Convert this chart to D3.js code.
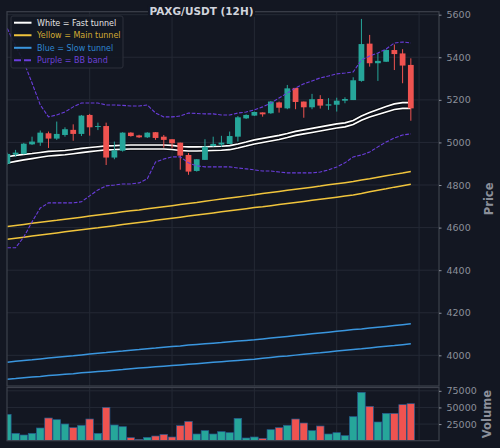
<!DOCTYPE html>
<html>
<head>
<meta charset="utf-8">
<script src="https://cdn.jsdelivr.net/npm/d3@7"></script>
<style>
  body { margin: 0; background: #131722; }
  text { font-family: "DejaVu Sans", sans-serif; }
</style>
</head>
<body>
<div id="chart"></div>
<script>
// candles (12H)
const opens  = [4900,4943,4946,4991,4999,5043,5018,5035,5059,5040,5129,5073,5077,4929,4961,5046,5033,5024,5048,5027,
                5015,4999,4941,4866,4918,4983,4990,4993,5027,5113,5126,5141,5137,5188,5160,5256,5192,5165,5204,5173,
                5177,5196,5199,5289,5464,5372,5379,5434,5418,5364];
const highs  = [4952,4965,4998,5027,5056,5051,5098,5071,5085,5129,5134,5093,5093,5004,5048,5048,5036,5048,5049,5035,
                5015,4999,4950,4921,5015,5027,5031,5051,5124,5132,5145,5141,5195,5192,5270,5256,5192,5228,5222,5208,
                5210,5212,5306,5580,5505,5419,5437,5460,5438,5395];
const lows   = [4895,4933,4944,4988,4984,4974,5012,5027,5008,5030,5032,5058,4894,4921,4957,5027,5021,5021,5012,4975,
                4972,4872,4848,4863,4918,4980,4980,4993,5004,5110,5124,5121,5134,5140,5156,5156,5116,5156,5159,5153,
                5145,5184,5199,5285,5356,5289,5378,5340,5278,5102];
const closes = [4946,4952,4994,5004,5046,5018,5040,5062,5040,5126,5071,5077,4929,4963,5046,5030,5024,5046,5021,5012,
                4996,4938,4863,4921,4980,4993,4999,5030,5118,5129,5143,5132,5192,5163,5254,5190,5165,5203,5173,5179,
                5196,5204,5292,5462,5372,5383,5434,5415,5361,5160];
const volumes = [39650,11080,8570,11080,19100,34130,31630,25110,19600,23110,32630,11080,50180,23610,21100,4560,2050,5060,7070,9570,
                 5560,22610,29120,10070,15090,10070,13580,12080,33640,4060,5560,3560,16590,19600,23110,32630,26620,15090,22110,10070,
                 12080,7570,36140,72730,51680,28120,41150,41150,54190,55690];

// tunnels
const fastUpper = [4933,4939,4944,4948,4953,4958,4960,4962,4967,4972,4976,4980,4984,4985,4987,4988,4988,4988,4988,4988,
                   4986,4981,4979,4979,4980,4981,4982,4985,4993,5002,5012,5019,5026,5033,5042,5052,5059,5066,5073,5080,
                   5087,5092,5103,5124,5141,5155,5169,5181,5187,5187];
const fastLower = [4903,4911,4918,4924,4930,4936,4939,4942,4947,4952,4957,4961,4965,4966,4968,4969,4969,4969,4969,4969,
                   4967,4962,4960,4960,4961,4962,4963,4966,4974,4983,4993,5000,5007,5014,5023,5033,5040,5047,5054,5061,
                   5068,5073,5084,5104,5119,5131,5143,5155,5160,5160];
const mainUpper = [4605,4610,4615,4620,4625,4630,4634,4639,4644,4649,4654,4659,4664,4669,4674,4679,4683,4688,4693,4698,
                   4703,4708,4713,4718,4724,4729,4734,4739,4744,4749,4754,4760,4765,4770,4775,4780,4785,4790,4795,4801,
                   4806,4811,4816,4823,4829,4836,4843,4850,4856,4863];
const mainLower = [4545,4550,4555,4560,4565,4570,4575,4580,4585,4590,4595,4599,4604,4609,4614,4619,4624,4629,4634,4639,
                   4644,4649,4654,4659,4664,4669,4674,4679,4684,4689,4694,4698,4703,4708,4713,4718,4723,4728,4733,4738,
                   4743,4748,4753,4760,4768,4775,4782,4790,4797,4804];
const slowUpper = [3968,3972,3976,3979,3983,3987,3991,3995,3998,4002,4006,4010,4013,4017,4020,4024,4027,4031,4034,4038,
                   4041,4044,4048,4051,4054,4057,4060,4064,4067,4070,4073,4077,4081,4085,4089,4093,4097,4101,4105,4109,
                   4113,4117,4121,4124,4128,4132,4136,4140,4144,4148];
const slowLower = [3888,3891,3895,3898,3901,3905,3908,3911,3914,3918,3921,3924,3927,3930,3933,3937,3940,3943,3946,3949,
                   3952,3955,3958,3961,3964,3967,3970,3973,3976,3979,3982,3986,3990,3994,3997,4001,4005,4009,4012,4016,
                   4020,4024,4028,4031,4035,4039,4043,4046,4050,4054];
// bollinger band
const bbUpper = [5535,5453,5378,5279,5176,5120,5129,5143,5167,5185,5185,5185,5176,5176,5174,5171,5171,5176,5138,5120,
                 5120,5124,5138,5136,5134,5134,5129,5129,5138,5143,5153,5167,5185,5209,5232,5256,5275,5289,5303,5312,
                 5322,5326,5331,5387,5406,5420,5439,5467,5472,5467];
const bbLower = [4505,4505,4556,4627,4692,4716,4716,4716,4716,4721,4749,4777,4796,4800,4805,4805,4810,4829,4908,4922,
                 4932,4932,4904,4890,4885,4885,4885,4885,4880,4876,4871,4866,4866,4861,4857,4857,4857,4857,4861,4871,
                 4885,4904,4932,4941,4955,4979,5002,5021,5035,5040];

const priceTicks = [4000,4200,4400,4600,4800,5000,5200,5400,5600];
const volumeTicks = [25000,50000,75000];
const gridCandles = [10,20,30,40,50];

const legendItems = [
  {label: "White = Fast tunnel", line: "#ffffff", text: "#e4e4e4", dash: null},
  {label: "Yellow = Main tunnel", line: "#f0c43c", text: "#d2ab33", dash: null},
  {label: "Blue = Slow tunnel", line: "#3a96de", text: "#2f86cf", dash: null},
  {label: "Purple = BB band", line: "#6a3ddc", text: "#6d41d6", dash: "7,3"}
];

const width = 500, height = 448;
const left = 7, right = 439;
const pTop = 11.7, pBottom = 386, vTop = 387.5, vBottom = 440.7;
const up = "#26a69a", down = "#ef5350";
const gridColor = "#242935", spineColor = "#3d414c", tickColor = "#8b8f9a";

const svg = d3.select("#chart").append("svg")
  .attr("width", width).attr("height", height)
  .style("background", "#131722");

const x = d3.scaleLinear().domain([-0.04, 52.42]).range([left, right]);
const yP = d3.scaleLinear().domain([3856, 5614]).range([pBottom, pTop]);
const yV = d3.scaleLinear().domain([0, 80000]).range([vBottom, vTop]);
const step = x(1) - x(0);

const defs = svg.append("defs");
defs.append("clipPath").attr("id", "clipP").append("rect")
  .attr("x", left).attr("y", pTop).attr("width", right - left).attr("height", pBottom - pTop);
defs.append("clipPath").attr("id", "clipV").append("rect")
  .attr("x", left).attr("y", vTop).attr("width", right - left).attr("height", vBottom - vTop);

// grid
const grid = svg.append("g").attr("stroke", gridColor).attr("stroke-width", 1);
grid.selectAll(".hp").data(priceTicks).join("line")
  .attr("x1", left).attr("x2", right).attr("y1", d => yP(d)).attr("y2", d => yP(d));
grid.selectAll(".hv").data(volumeTicks).join("line")
  .attr("x1", left).attr("x2", right).attr("y1", d => yV(d)).attr("y2", d => yV(d));
grid.selectAll(".vp").data(gridCandles).join("line")
  .attr("x1", d => x(d)).attr("x2", d => x(d)).attr("y1", pTop).attr("y2", pBottom);
grid.selectAll(".vv").data(gridCandles).join("line")
  .attr("x1", d => x(d)).attr("x2", d => x(d)).attr("y1", vTop).attr("y2", vBottom);

// price panel
const price = svg.append("g").attr("clip-path", "url(#clipP)");
const line = d3.line().x((d, i) => x(i)).y(d => yP(d));

function drawLine(data, color, w) {
  price.append("path").datum(data).attr("d", line)
    .attr("fill", "none").attr("stroke", color).attr("stroke-width", w);
}
drawLine(mainUpper, "#f0c43c", 1.5);
drawLine(mainLower, "#f0c43c", 1.5);
drawLine(slowUpper, "#3a96de", 1.5);
drawLine(slowLower, "#3a96de", 1.5);
[fastUpper, fastLower].forEach(d => {
  drawLine(d, "#0a0c12", 3.6);
  drawLine(d, "#ffffff", 1.6);
});

// candles
const candles = price.append("g").selectAll("g").data(opens).join("g");
candles.append("line")
  .attr("x1", (d, i) => x(i)).attr("x2", (d, i) => x(i))
  .attr("y1", (d, i) => yP(highs[i])).attr("y2", (d, i) => yP(lows[i]))
  .attr("stroke", (d, i) => closes[i] >= d ? up : down).attr("stroke-width", 1);
candles.append("rect")
  .attr("x", (d, i) => x(i) - step * 0.35)
  .attr("width", step * 0.7)
  .attr("y", (d, i) => yP(Math.max(d, closes[i])))
  .attr("height", (d, i) => Math.max(1, Math.abs(yP(d) - yP(closes[i]))))
  .attr("fill", (d, i) => closes[i] >= d ? up : down);

price.append("path").datum(bbUpper).attr("d", line)
  .attr("fill", "none").attr("stroke", "#6a3ddc").attr("stroke-width", 1.1).attr("stroke-dasharray", "3.7,1.6");
price.append("path").datum(bbLower).attr("d", line)
  .attr("fill", "none").attr("stroke", "#6a3ddc").attr("stroke-width", 1.1).attr("stroke-dasharray", "3.7,1.6");

// volume panel
svg.append("g").attr("clip-path", "url(#clipV)")
  .selectAll("rect").data(volumes).join("rect")
  .attr("x", (d, i) => x(i) - step * 0.46)
  .attr("width", step * 0.92)
  .attr("y", d => yV(d))
  .attr("height", d => yV(0) - yV(d))
  .attr("fill", (d, i) => closes[i] >= opens[i] ? up : down)
  .attr("stroke", "#24598c").attr("stroke-width", 0.7);

// spines
[[pTop, pBottom], [vTop, vBottom]].forEach(([t, b]) => {
  svg.append("rect").attr("x", left).attr("y", t).attr("width", right - left).attr("height", b - t)
    .attr("fill", "none").attr("stroke", spineColor).attr("stroke-width", 1.2);
});

// right axes
function styleAxis(g) {
  g.select(".domain").remove();
  g.selectAll(".tick line").attr("stroke", tickColor);
  g.selectAll(".tick text").attr("fill", tickColor)
    .style("font-size", "9.5px").style("font-family", "DejaVu Sans, sans-serif");
}
svg.append("g").attr("transform", `translate(${right},0)`)
  .call(d3.axisRight(yP).tickValues(priceTicks).tickSize(2.5).tickPadding(5).tickFormat(d3.format("d")))
  .call(styleAxis);
svg.append("g").attr("transform", `translate(${right},0)`)
  .call(d3.axisRight(yV).tickValues(volumeTicks).tickSize(2.5).tickPadding(5).tickFormat(d3.format("d")))
  .call(styleAxis);

svg.append("text").attr("transform", `translate(489,${(pTop + pBottom) / 2}) rotate(-90)`)
  .attr("text-anchor", "middle").attr("dominant-baseline", "central")
  .attr("fill", tickColor).style("font-size", "11.5px").style("font-weight", "bold").text("Price");
svg.append("text").attr("transform", `translate(487,${(vTop + vBottom) / 2}) rotate(-90)`)
  .attr("text-anchor", "middle").attr("dominant-baseline", "central")
  .attr("fill", tickColor).style("font-size", "11.5px").style("font-weight", "bold").text("Volume");

// title
const titleBg = svg.append("rect").attr("fill", "#131722");
const title = svg.append("text").attr("x", 201.5).attr("y", 14.8)
  .attr("text-anchor", "middle").attr("fill", "#d1d4dc")
  .style("font-size", "10.5px").style("font-weight", "bold").text("PAXG/USDT (12H)");
const tb = title.node().getBBox();
titleBg.attr("x", tb.x - 1.5).attr("y", tb.y).attr("width", tb.width + 3).attr("height", tb.height);

// legend
const legend = svg.append("g");
legend.append("rect").attr("x", 11).attr("y", 16).attr("width", 112).attr("height", 52).attr("rx", 2)
  .attr("fill", "#131722").attr("fill-opacity", 0.9).attr("stroke", "#2c303b").attr("stroke-width", 1);
const rows = legend.selectAll("g").data(legendItems).join("g")
  .attr("transform", (d, i) => `translate(0,${22.7 + i * 12.55})`);
rows.append("line").attr("x1", 14).attr("x2", 31.5)
  .attr("stroke", d => d.line).attr("stroke-width", 2)
  .attr("stroke-dasharray", d => d.dash);
rows.append("text").attr("x", 37).attr("y", 0).attr("dy", "0.35em")
  .attr("fill", d => d.text).style("font-size", "8px").text(d => d.label);
</script>
</body>
</html>
